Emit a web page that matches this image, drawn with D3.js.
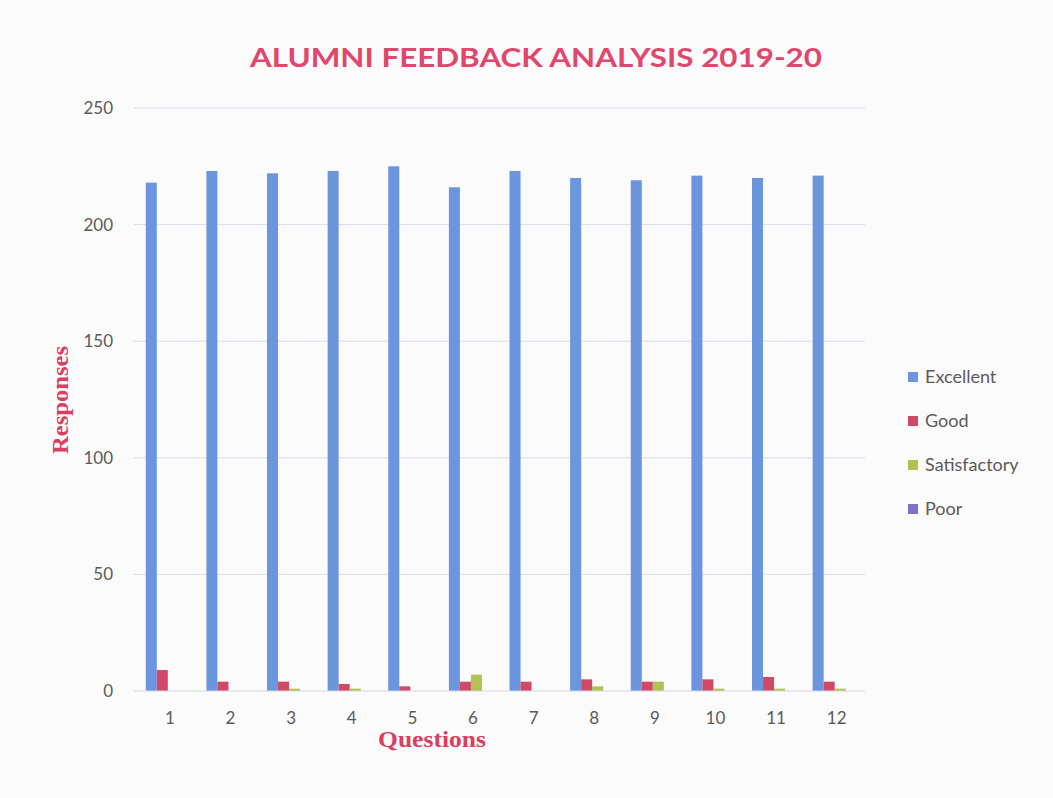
<!DOCTYPE html>
<html><head><meta charset="utf-8">
<script src="https://cdn.jsdelivr.net/npm/d3@7"></script>
<style>body{margin:0;background:#fbfbfb;} svg{display:block;}</style>
</head><body>
<svg id="chart" width="1053" height="798"></svg>
<script>
const questions = ["1","2","3","4","5","6","7","8","9","10","11","12"];
const seriesNames = ["Excellent","Good","Satisfactory","Poor"];
const excellent = [218,223,222,223,225,216,223,220,219,221,220,221];
const good = [9,4,4,3,2,4,4,5,4,5,6,4];
const satisfactory = [0,0,1,1,0,7,0,2,4,1,1,1];
const poor = [0,0,0,0,0,0,0,0,0,0,0,0];
const yTicks = [0,50,100,150,200,250];
const colors = ["#6b95dc","#d04a68","#b3c052","#7f70c8"];

const seriesValues = [excellent, good, satisfactory, poor];
const svg = d3.select("#chart");
const plot = {left:137.5, right:865, top:108, bottom:691};

const x0 = d3.scaleBand().domain(questions).range([plot.left, plot.right]).paddingInner(1.5/5.5).paddingOuter(0.75/5.5);
const x1 = d3.scaleBand().domain(seriesNames).range([0, x0.bandwidth()]);
const y = d3.scaleLinear().domain([0,250]).range([plot.bottom, plot.top]);

// gridlines
svg.append("g").selectAll("line").data(yTicks.filter(d=>d>0)).join("line")
  .attr("x1", plot.left-4).attr("x2", plot.right)
  .attr("y1", d=>y(d)).attr("y2", d=>y(d))
  .attr("stroke", "#dcdcec").attr("stroke-width", 1);

// bars
const groups = svg.append("g").selectAll("g").data(questions).join("g")
  .attr("transform", d=>`translate(${x0(d)},0)`);
groups.selectAll("rect").data((q,i)=>seriesNames.map((s,j)=>({s, v: seriesValues[j][i], c: colors[j]}))).join("rect")
  .attr("x", d=>x1(d.s)).attr("width", x1.bandwidth())
  .attr("y", d=>y(d.v)).attr("height", d=>y(0)-y(d.v))
  .attr("fill", d=>d.c);

// baseline
svg.append("line").attr("x1", plot.left-4).attr("x2", plot.right)
  .attr("y1", y(0)).attr("y2", y(0)).attr("stroke", "#d6d6e4").attr("stroke-width", 1.2);

// y axis labels
const yAxis = d3.axisLeft(y).tickValues(yTicks).tickSize(0).tickPadding(0);
const ya = svg.append("g").attr("transform", `translate(${113},0)`).call(yAxis);
ya.select(".domain").remove();
ya.selectAll("text").attr("font-family","Lato, 'Open Sans', sans-serif").attr("font-size", 17).attr("fill","#5a5a5a");

// x axis labels
const xAxis = d3.axisBottom(x0).tickSize(0).tickPadding(0);
const xa = svg.append("g").attr("transform", `translate(2,${712})`).call(xAxis);
xa.select(".domain").remove();
xa.selectAll("text").attr("font-family","Lato, 'Open Sans', sans-serif").attr("font-size", 17).attr("fill","#5a5a5a");

// title
svg.append("text").attr("x", 536).attr("y", 67).attr("text-anchor","middle")
  .attr("font-family","Lato, 'Open Sans', sans-serif").attr("font-weight","bold").attr("font-size", 26)
  .attr("fill","#e0476c").attr("textLength", 572).attr("lengthAdjust","spacingAndGlyphs")
  .text("ALUMNI FEEDBACK ANALYSIS 2019-20");

// axis titles
svg.append("text").attr("transform","translate(68,400) rotate(-90)").attr("text-anchor","middle")
  .attr("font-family","'Liberation Serif', 'DejaVu Serif', serif").attr("font-weight","bold").attr("font-size", 23)
  .attr("fill","#d9405f").attr("textLength", 108).attr("lengthAdjust","spacingAndGlyphs").text("Responses");
svg.append("text").attr("x", 432).attr("y", 747).attr("text-anchor","middle")
  .attr("font-family","'Liberation Serif', 'DejaVu Serif', serif").attr("font-weight","bold").attr("font-size", 23)
  .attr("fill","#d9405f").attr("textLength", 108).attr("lengthAdjust","spacingAndGlyphs").text("Questions");

// legend
const legend = svg.append("g").selectAll("g").data(seriesNames).join("g")
  .attr("transform", (d,i)=>`translate(908,${377 + i*44})`);
legend.append("rect").attr("x",0).attr("y",-5).attr("width",10).attr("height",10).attr("fill",(d,i)=>colors[i]);
legend.append("text").attr("x",17).attr("y",0).attr("dy","0.35em")
  .attr("font-family","Lato, 'Open Sans', sans-serif").attr("font-size", 18).attr("fill","#5a5a5a").text(d=>d);
</script>
</body></html>
